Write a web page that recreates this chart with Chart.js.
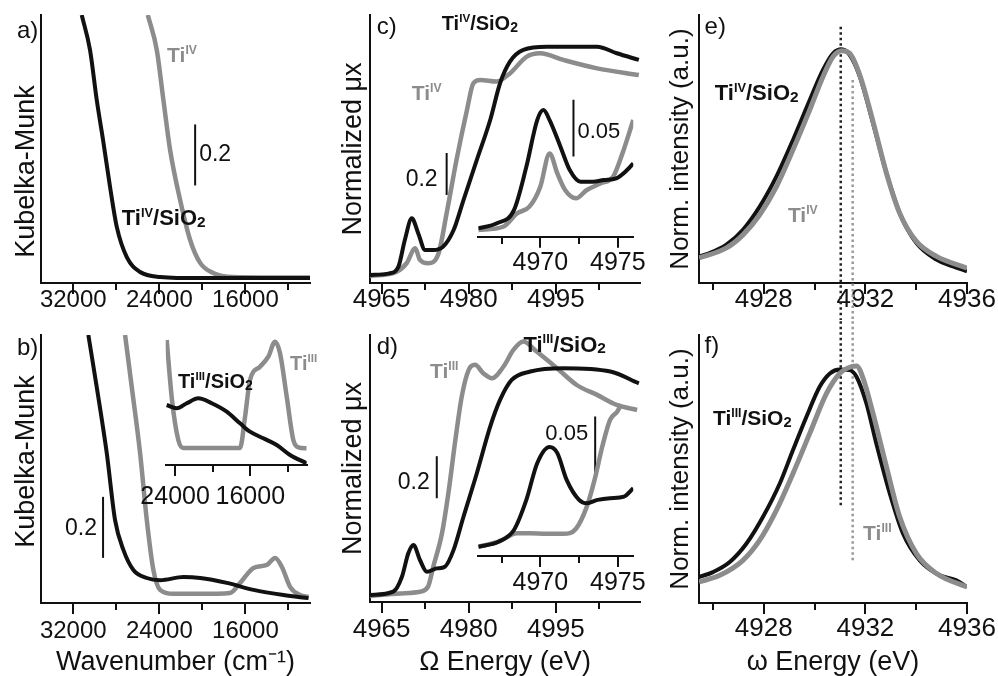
<!DOCTYPE html>
<html lang="en">
<head>
<meta charset="UTF-8">
<title>Ti spectra</title>
<script src="https://cdn.jsdelivr.net/npm/chart.js"></script>
<style>
  body { margin: 0; background: #fff; overflow: hidden; }
  .fig { position: relative; width: 998px; height: 676px; }
  .fig canvas { position: absolute; }
</style>
</head>
<body>
<div class="fig">
  <canvas id="pa" width="330" height="320" style="left:0;top:0"></canvas>
  <canvas id="pb" width="330" height="356" style="left:0;top:320px"></canvas>
  <canvas id="pc" width="330" height="320" style="left:330px;top:0"></canvas>
  <canvas id="pd" width="330" height="356" style="left:330px;top:320px"></canvas>
  <canvas id="pe" width="338" height="320" style="left:660px;top:0"></canvas>
  <canvas id="pf" width="338" height="356" style="left:660px;top:320px"></canvas>
  <canvas id="ib" width="200" height="180" style="left:130px;top:330px"></canvas>
  <canvas id="ic" width="215" height="200" style="left:440px;top:85px"></canvas>
  <canvas id="id" width="215" height="210" style="left:440px;top:395px"></canvas>
</div>
<script>
// ---- data ----
// a) Kubelka-Munk, Ti(IV)
const a_TiSiO2_x = [31214, 30442, 29819, 29233, 28582, 27958, 27028, 25791, 23930, 20209, 10000];
const a_TiSiO2_y = [0.879, 0.764, 0.600, 0.469, 0.315, 0.184, 0.085, 0.036, 0.020, 0.016, 0.016];
const a_Ti_x = [25075, 24238, 23624, 23000, 22070, 21140, 20209, 19000, 17140, 10000];
const a_Ti_y = [0.879, 0.764, 0.600, 0.436, 0.272, 0.141, 0.066, 0.033, 0.020, 0.018];

// b) Kubelka-Munk, Ti(III)
const b_TiSiO2_x = [30600, 29819, 28889, 28116, 27344, 26414, 25168, 23930, 21763, 20209, 17726, 15252, 12460, 10135];
const b_TiSiO2_y = [0.879, 0.708, 0.492, 0.272, 0.174, 0.108, 0.082, 0.075, 0.085, 0.082, 0.066, 0.043, 0.026, 0.016];
const b_Ti_x = [27186, 26563, 25791, 25168, 24554, 23930, 22693, 20209, 17419, 16489, 15252, 14005, 13233, 12610, 11838, 10907, 10135];
const b_Ti_y = [0.879, 0.708, 0.492, 0.272, 0.108, 0.043, 0.030, 0.030, 0.033, 0.066, 0.115, 0.125, 0.148, 0.118, 0.052, 0.026, 0.020];
// b) inset (zoomed)
const bIn_TiSiO2_x = [24894, 23830, 22766, 21531, 20106, 18510, 17095, 16030, 14615, 13190, 11774, 10000];
const bIn_TiSiO2_y = [0.60, 0.567, 0.617, 0.667, 0.617, 0.533, 0.417, 0.333, 0.267, 0.20, 0.10, 0.017];
const bIn_Ti_x = [24894, 24330, 23659, 23127, 17095, 16563, 16030, 14966, 14083, 13370, 12838, 12125, 11423, 10891, 10000];
const bIn_Ti_y = [1.25, 0.65, 0.25, 0.17, 0.17, 0.48, 0.85, 0.983, 1.083, 1.233, 1.117, 0.683, 0.25, 0.177, 0.167];

// c) XANES, Ti(IV)
const c_TiSiO2_x = [4963, 4966.4, 4967.9, 4969.0, 4970.2, 4971.3, 4972.5, 4973.9, 4975.6, 4977.4, 4979.1, 4981.4, 4983.7, 4985.4, 4987.1, 4989.4, 4993.5, 5002.1, 5005.5, 5009.3];
const c_TiSiO2_y = [0.038, 0.046, 0.078, 0.205, 0.308, 0.237, 0.157, 0.157, 0.173, 0.252, 0.395, 0.586, 0.776, 0.951, 1.054, 1.110, 1.125, 1.125, 1.094, 1.062];
const c_Ti_x = [4963, 4967.6, 4969.3, 4970.8, 4971.6, 4973.0, 4974.8, 4976.2, 4977.9, 4979.7, 4980.8, 4982.0, 4984.8, 4987.1, 4990.0, 4992.3, 4996.3, 5002.1, 5009.3];
const c_Ti_y = [0.033, 0.054, 0.094, 0.165, 0.110, 0.094, 0.141, 0.332, 0.586, 0.824, 0.951, 0.967, 0.959, 0.998, 1.078, 1.094, 1.062, 1.022, 0.990];
// c) inset, pre-edge
const cIn_TiSiO2_x = [4966.0, 4967.2, 4968.3, 4969.1, 4969.8, 4970.2, 4970.6, 4971.3, 4971.9, 4972.6, 4973.4, 4974.1, 4974.9, 4975.6, 4976.0];
const cIn_TiSiO2_y = [0.0074, 0.0118, 0.0235, 0.0617, 0.1029, 0.1117, 0.1029, 0.0794, 0.0588, 0.0485, 0.0485, 0.0500, 0.0515, 0.0588, 0.0647];
const cIn_Ti_x = [4966.0, 4967.6, 4968.5, 4969.3, 4970.0, 4970.6, 4971.1, 4971.6, 4972.3, 4973.0, 4973.9, 4974.7, 4975.3, 4976.0];
const cIn_Ti_y = [0.0059, 0.0088, 0.0206, 0.0265, 0.0441, 0.0735, 0.0559, 0.0412, 0.0339, 0.0412, 0.0471, 0.0529, 0.0735, 0.1029];

// d) XANES, Ti(III)
const d_TiSiO2_x = [4963, 4967.0, 4968.5, 4969.6, 4970.5, 4971.6, 4972.8, 4974.5, 4975.9, 4977.4, 4979.1, 4981.4, 4983.7, 4985.4, 4987.4, 4990.6, 4996.3, 5004.4, 5009.3];
const d_TiSiO2_y = [0.033, 0.049, 0.120, 0.232, 0.271, 0.200, 0.144, 0.160, 0.168, 0.248, 0.406, 0.613, 0.835, 0.962, 1.057, 1.097, 1.113, 1.097, 1.041];
const d_Ti_x = [4963, 4968.2, 4971.6, 4973.0, 4973.9, 4975.4, 4976.5, 4977.7, 4978.8, 4980.0, 4981.1, 4982.5, 4984.0, 4986.0, 4987.7, 4989.4, 4991.7, 4995.2, 4998.6, 5002.1, 5005.5, 5009.0];
const d_Ti_y = [0.029, 0.041, 0.049, 0.073, 0.168, 0.327, 0.518, 0.771, 0.978, 1.105, 1.129, 1.089, 1.065, 1.121, 1.200, 1.240, 1.192, 1.113, 1.033, 0.986, 0.938, 0.914];
// d) inset, pre-edge
const dIn_TiSiO2_x = [4966.0, 4967.3, 4968.3, 4969.1, 4969.8, 4970.6, 4971.1, 4971.7, 4972.5, 4973.0, 4973.7, 4974.5, 4975.4, 4976.0];
const dIn_TiSiO2_y = [0.0082, 0.0126, 0.0229, 0.0494, 0.0817, 0.0960, 0.0906, 0.0670, 0.0494, 0.0465, 0.0494, 0.0509, 0.0523, 0.0597];
const dIn_Ti_x = [4966.0, 4967.3, 4968.5, 4969.3, 4970.4, 4971.5, 4972.3, 4973.0, 4973.5, 4974.0, 4974.5, 4975.0, 4975.4];
const dIn_Ti_y = [0.0082, 0.0126, 0.0200, 0.0200, 0.0195, 0.0195, 0.0240, 0.0435, 0.0670, 0.0964, 0.1199, 0.1279, 0.1400];

// e) Kbeta emission, Ti(IV)
const e_TiSiO2_x = [4925.45, 4925.87, 4926.53, 4927.18, 4927.84, 4928.50, 4929.15, 4929.81, 4930.33, 4930.73, 4931.06, 4931.38, 4931.78, 4932.30, 4932.83, 4933.35, 4934.01, 4934.80, 4935.45, 4936];
const e_TiSiO2_y = [0.114, 0.128, 0.164, 0.228, 0.327, 0.456, 0.612, 0.783, 0.912, 0.983, 1.0, 0.976, 0.883, 0.684, 0.470, 0.299, 0.171, 0.100, 0.071, 0.050];
const e_Ti_x = [4925.45, 4926.53, 4927.18, 4927.84, 4928.50, 4929.15, 4929.81, 4930.33, 4930.73, 4931.06, 4931.38, 4931.78, 4932.30, 4932.83, 4933.35, 4934.01, 4934.80, 4936];
const e_Ti_y = [0.107, 0.150, 0.206, 0.292, 0.413, 0.570, 0.741, 0.883, 0.969, 0.994, 0.983, 0.890, 0.691, 0.470, 0.299, 0.178, 0.114, 0.064];

// f) Kbeta emission, Ti(III)
const f_TiSiO2_x = [4925.45, 4926.0, 4926.66, 4927.32, 4927.97, 4928.63, 4929.15, 4929.68, 4930.20, 4930.60, 4930.99, 4931.38, 4931.65, 4932.04, 4932.43, 4932.96, 4933.48, 4934.14, 4934.93, 4935.58, 4936];
const f_TiSiO2_y = [0.111, 0.132, 0.175, 0.254, 0.368, 0.510, 0.653, 0.795, 0.923, 0.980, 0.997, 0.994, 0.966, 0.852, 0.681, 0.468, 0.297, 0.182, 0.118, 0.097, 0.068];
const f_Ti_x = [4925.45, 4926.27, 4927.18, 4927.84, 4928.50, 4929.15, 4929.81, 4930.47, 4930.99, 4931.45, 4931.65, 4931.91, 4932.30, 4932.83, 4933.35, 4934.01, 4934.80, 4936];
const f_Ti_y = [0.090, 0.118, 0.182, 0.268, 0.396, 0.553, 0.724, 0.895, 0.980, 1.009, 1.012, 0.959, 0.809, 0.581, 0.368, 0.211, 0.126, 0.068];

// peak positions (dotted markers): [Ti/SiO2, reference]
const peaksE = [4931.03, 4931.5];

// axis ticks
const ticksWn = [32000, 28000, 24000, 20000, 16000, 12000];
const labelsWn = [32000, 24000, 16000];
const ticksWnInset = [24000, 20000, 16000, 12000];
const labelsWnInset = [24000, 16000];
const ticksXanes = [4965, 4972.5, 4980, 4987.5, 4995, 5002.5];
const labelsXanes = [4965, 4980, 4995];
const ticksPre = [4967.5, 4970, 4972.5, 4975];
const labelsPre = [4970, 4975];
const ticksKb = [4926, 4928, 4930, 4932, 4934, 4936];
const labelsKb = [4928, 4932, 4936];

// scale bar lengths
const barMain = 0.2;
const barInset = 0.05;

// ---- drawing ----
const BLACK = '#111';
const GREY = '#8c8c8c';
const FAMILY = "'Liberation Sans', Arial, sans-serif";
Chart.defaults.font.family = FAMILY;
Chart.defaults.color = BLACK;

function line(xs, ys, color, width, extra) {
    return Object.assign({
        data: xs.map((x, i) => ({x: x, y: ys[i]})),
        borderColor: color,
        borderWidth: width,
        pointRadius: 0,
        fill: false,
        cubicInterpolationMode: 'monotone'
    }, extra || {});
}

const straight = {cubicInterpolationMode: 'default', tension: 0};

function scaleBar(x, y0, len) {
    return line([x, x], [y0, y0 + len], BLACK, 2, straight);
}

function peakMarker(x, y0, y1, color) {
    return line([x, x], [y0, y1], color, 2.5,
        Object.assign({borderDash: [2.5, 3], clip: false}, straight));
}

// text with super/subscripts: parts = [['Ti'], ['IV', 'sup'], ['/SiO'], ['2', 'sub']]
function drawRich(ctx, x, y, parts, size, bold, align) {
    const weight = bold ? 'bold ' : '';
    const pieces = parts.map(p => {
        const kind = p[1] || '';
        const s = kind === 'sup' ? size * 0.58 : kind === 'sub' ? size * 0.7 : size;
        const dy = kind === 'sup' ? -size * 0.38 : kind === 'sub' ? size * 0.08 : 0;
        const font = weight + s.toFixed(1) + 'px ' + FAMILY;
        ctx.font = font;
        return {t: p[0], font: font, dy: dy, w: ctx.measureText(p[0]).width};
    });
    const total = pieces.reduce((a, p) => a + p.w, 0);
    let cx = align === 'right' ? x - total : x;
    pieces.forEach(p => {
        ctx.font = p.font;
        ctx.fillText(p.t, cx, y + p.dy);
        cx += p.w;
    });
}

function notesPlugin(items) {
    return {
        id: 'notes',
        afterDatasetsDraw(chart) {
            const ctx = chart.ctx;
            const xs = chart.scales.x, ys = chart.scales.y;
            items.forEach(n => {
                ctx.save();
                ctx.fillStyle = n.color || BLACK;
                ctx.textAlign = 'left';
                ctx.textBaseline = n.middle ? 'middle' : 'alphabetic';
                const parts = typeof n.text === 'string' ? [[n.text]] : n.text;
                drawRich(ctx, xs.getPixelForValue(n.x) + (n.dx || 0), ys.getPixelForValue(n.y),
                    parts, n.size || 22, n.bold, n.align);
                ctx.restore();
            });
        }
    };
}

function xAxis(o) {
    return {
        type: 'linear',
        min: o.min,
        max: o.max,
        reverse: !!o.reverse,
        afterBuildTicks: s => { s.ticks = o.ticks.map(v => ({value: v})); },
        afterFit: s => { s.height = o.height; },
        border: {display: true, color: BLACK, width: 2},
        grid: {
            drawOnChartArea: false,
            color: BLACK,
            lineWidth: 2,
            tickLength: 11,
            // short minor ticks, long labelled ones
            tickBorderDash: c => (c.tick && o.labels.includes(c.tick.value)) ? [] : [6, 40]
        },
        ticks: {
            autoSkip: false,
            maxRotation: 0,
            padding: o.tickPad || 0,
            color: BLACK,
            font: {size: o.size},
            callback: v => o.labels.includes(v) ? String(v) : ''
        },
        title: o.title ? {
            display: true, text: o.title, color: BLACK,
            font: {size: 27, lineHeight: 1}, padding: {top: 0, bottom: 0}
        } : {display: false}
    };
}

function yAxis(o) {
    const axis = {
        type: 'linear',
        min: o.min,
        max: o.max,
        display: !o.hidden,
        border: {display: true, color: BLACK, width: 2},
        grid: {display: false},
        ticks: {display: false},
        title: {
            display: !!o.title, text: o.title || '', color: BLACK,
            font: {size: o.size || 27, lineHeight: 1.2},
            padding: {top: o.pad || 0, bottom: 0}
        }
    };
    if (o.width !== undefined) axis.afterFit = s => { s.width = o.width; };
    return axis;
}

function panel(id, o) {
    return new Chart(document.getElementById(id), {
        type: 'line',
        data: {datasets: o.datasets},
        options: {
            responsive: false,
            animation: false,
            devicePixelRatio: 1,
            layout: {padding: o.pad},
            plugins: {legend: {display: false}, tooltip: {enabled: false}},
            scales: {x: o.x, y: o.y}
        },
        plugins: [notesPlugin(o.notes || [])]
    });
}

const TI_IV = [['Ti'], ['IV', 'sup']];
const TI_III = [['Ti'], ['III', 'sup']];
const TI_IV_SIO2 = [['Ti'], ['IV', 'sup'], ['/SiO'], ['2', 'sub']];
const TI_III_SIO2 = [['Ti'], ['III', 'sup'], ['/SiO'], ['2', 'sub']];
const nbsp = '\u00a0';

// a)
panel('pa', {
    pad: {top: 15, right: 20, left: 0, bottom: 0},
    datasets: [
        line(a_TiSiO2_x, a_TiSiO2_y, BLACK, 4),
        line(a_Ti_x, a_Ti_y, GREY, 4.5),
        scaleBar(20675, 0.32, barMain)
    ],
    x: xAxis({min: 10000, max: 35000, reverse: true, ticks: ticksWn, labels: labelsWn, size: 24, height: 37, tickPad: -8}),
    y: yAxis({min: 0, max: 0.879, width: 41, title: 'Kubelka-Munk' + nbsp.repeat(6), pad: 10}),
    notes: [
        {x: 37232, y: 0.803, text: 'a)', size: 24},
        {x: 23280, y: 0.726, text: TI_IV, color: GREY, bold: true, size: 21},
        {x: 27493, y: 0.190, text: TI_IV_SIO2, bold: true, size: 22},
        {x: 20675, y: 0.42, text: '0.2', middle: true, dx: 4, size: 23}
    ]
});

// b)
panel('pb', {
    pad: {top: 15, right: 20, left: 0, bottom: 0},
    datasets: [
        line(b_TiSiO2_x, b_TiSiO2_y, BLACK, 4),
        line(b_Ti_x, b_Ti_y, GREY, 4.5),
        scaleBar(29233, 0.148, barMain)
    ],
    x: xAxis({min: 10000, max: 35000, reverse: true, ticks: ticksWn, labels: labelsWn, size: 24, height: 73, tickPad: 3,
        title: 'Wavenumber (cm\u207b\u00b9)'}),
    y: yAxis({min: 0, max: 0.879, width: 41, title: nbsp.repeat(2) + 'Kubelka-Munk', pad: 10}),
    notes: [
        {x: 37232, y: 0.813, text: 'b)', size: 24},
        {x: 29233, y: 0.243, text: '0.2', middle: true, dx: -6, align: 'right', size: 23}
    ]
});

panel('ib', {
    pad: {top: 8, right: 23.3, left: 35.7, bottom: 0},
    datasets: [
        line(bIn_TiSiO2_x, bIn_TiSiO2_y, BLACK, 4),
        line(bIn_Ti_x, bIn_Ti_y, GREY, 4.5)
    ],
    x: xAxis({min: 10000, max: 25000, reverse: true, ticks: ticksWnInset, labels: labelsWnInset, size: 25, height: 45, tickPad: 6}),
    y: yAxis({min: 0, max: 1.27, hidden: true}),
    notes: [
        {x: 23691, y: 0.77, text: TI_III_SIO2, bold: true, size: 20},
        {x: 11774, y: 0.95, text: TI_III, color: GREY, bold: true, size: 20}
    ]
});

// c)
panel('pc', {
    pad: {top: 15, right: 20, left: 0, bottom: 0},
    datasets: [
        line(c_TiSiO2_x, c_TiSiO2_y, BLACK, 4),
        line(c_Ti_x, c_Ti_y, GREY, 4.5),
        scaleBar(4976.2, 0.419, barMain)
    ],
    x: xAxis({min: 4963, max: 5009.5, ticks: ticksXanes, labels: labelsXanes, size: 26, height: 37, tickPad: -10}),
    y: yAxis({min: 0, max: 1.276, width: 40, title: 'Normalized \u03bcx', pad: 7}),
    notes: [
        {x: 4964.16, y: 1.186, text: 'c)', size: 24},
        {x: 4975.36, y: 1.205, text: TI_IV_SIO2, bold: true, size: 20},
        {x: 4970.19, y: 0.871, text: TI_IV, color: GREY, bold: true, size: 21},
        {x: 4976.2, y: 0.49, text: '0.2', middle: true, dx: -9, align: 'right', size: 23}
    ]
});

panel('ic', {
    pad: {top: 10, right: 21.7, left: 38.3, bottom: 0},
    datasets: [
        line(cIn_TiSiO2_x, cIn_TiSiO2_y, BLACK, 4),
        line(cIn_Ti_x, cIn_Ti_y, GREY, 4.5),
        scaleBar(4972.14, 0.0708, barInset)
    ],
    x: xAxis({min: 4966, max: 4976, ticks: ticksPre, labels: labelsPre, size: 25, height: 48.3, tickPad: 0}),
    y: yAxis({min: 0, max: 0.125, hidden: true}),
    notes: [
        {x: 4972.14, y: 0.0926, text: '0.05', middle: true, dx: 4, size: 22}
    ]
});

// d)
panel('pd', {
    pad: {top: 15, right: 20, left: 0, bottom: 0},
    datasets: [
        line(d_TiSiO2_x, d_TiSiO2_y, BLACK, 4),
        line(d_Ti_x, d_Ti_y, GREY, 4.5),
        scaleBar(4974.5, 0.494, barMain)
    ],
    x: xAxis({min: 4963, max: 5009.5, ticks: ticksXanes, labels: labelsXanes, size: 26, height: 74, tickPad: 1,
        title: '\u03a9 Energy (eV)'}),
    y: yAxis({min: 0, max: 1.271, width: 40, title: 'Normalized \u03bcx', pad: 7}),
    notes: [
        {x: 4964.16, y: 1.18, text: 'd)', size: 24},
        {x: 4973.34, y: 1.068, text: TI_III, color: GREY, bold: true, size: 21},
        {x: 4989.43, y: 1.192, text: TI_III_SIO2, bold: true, size: 22},
        {x: 4974.5, y: 0.567, text: '0.2', middle: true, dx: -7, align: 'right', size: 23}
    ]
});

panel('id', {
    pad: {top: 10, right: 21.7, left: 38.3, bottom: 0},
    datasets: [
        line(dIn_TiSiO2_x, dIn_TiSiO2_y, BLACK, 4),
        line(dIn_Ti_x, dIn_Ti_y, GREY, 4.5),
        scaleBar(4973.54, 0.0729, barInset)
    ],
    x: xAxis({min: 4966, max: 4976, ticks: ticksPre, labels: labelsPre, size: 25, height: 49, tickPad: 1}),
    y: yAxis({min: 0, max: 0.133, hidden: true}),
    notes: [
        {x: 4973.54, y: 0.1076, text: '0.05', middle: true, dx: -7, align: 'right', size: 22}
    ]
});

// e)
panel('pe', {
    pad: {top: 15, right: 31, left: 0, bottom: 0},
    datasets: [
        line(e_Ti_x, e_Ti_y, GREY, 5),
        line(e_TiSiO2_x, e_TiSiO2_y, BLACK, 4),
        peakMarker(peaksE[0], 1.097, -0.2, '#222'),
        peakMarker(peaksE[1], 0.869, -0.2, '#999')
    ],
    x: xAxis({min: 4925.45, max: 4936, ticks: ticksKb, labels: labelsKb, size: 26, height: 37, tickPad: -10}),
    y: yAxis({min: 0, max: 1.147, width: 39, title: 'Norm. intensity (a.u.)', size: 26, pad: 5}),
    notes: [
        {x: 4925.67, y: 1.065, text: 'e)', size: 24},
        {x: 4926.07, y: 0.783, text: TI_IV_SIO2, bold: true, size: 22},
        {x: 4928.95, y: 0.263, text: TI_IV, color: GREY, bold: true, size: 21}
    ]
});

// f)
panel('pf', {
    pad: {top: 15, right: 31, left: 0, bottom: 0},
    datasets: [
        line(f_Ti_x, f_Ti_y, GREY, 5),
        line(f_TiSiO2_x, f_TiSiO2_y, BLACK, 4),
        peakMarker(peaksE[0], 1.25, 0.405, '#222'),
        peakMarker(peaksE[1], 1.25, 0.175, '#999')
    ],
    x: xAxis({min: 4925.45, max: 4936, ticks: ticksKb, labels: labelsKb, size: 26, height: 73, tickPad: -1,
        title: '\u03c9 Energy (eV)'}),
    y: yAxis({min: 0, max: 1.144, width: 39, title: 'Norm. intensity (a.u.)', size: 26, pad: 5}),
    notes: [
        {x: 4925.67, y: 1.066, text: 'f)', size: 24},
        {x: 4926.0, y: 0.759, text: TI_III_SIO2, bold: true, size: 21},
        {x: 4931.91, y: 0.268, text: TI_III, color: GREY, bold: true, size: 21}
    ]
});
</script>
</body>
</html>
